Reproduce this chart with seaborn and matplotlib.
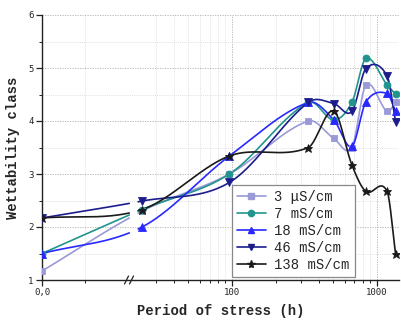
import numpy as np
import pandas as pd
import matplotlib
matplotlib.use("Agg")
import matplotlib.pyplot as plt
import seaborn as sns
from matplotlib.ticker import FixedLocator, FixedFormatter, NullFormatter
from matplotlib.lines import Line2D

# ---------------- data ----------------
hours = [0, 24, 96, 336, 504, 672, 840, 1176, 1344]
s_3us = [1.17, 2.30, 3.00, 4.00, 3.67, 3.50, 4.68, 4.18, 4.35]
s_7ms = [1.50, 2.33, 3.00, 4.35, 4.02, 4.35, 5.18, 4.68, 4.51]
s_18ms = [1.50, 2.00, 3.34, 4.35, 4.02, 3.52, 4.36, 4.52, 4.18]
s_46ms = [2.17, 2.49, 2.84, 4.35, 4.33, 4.18, 4.99, 4.85, 3.99]
s_138ms = [2.17, 2.33, 3.34, 3.50, 4.19, 3.17, 2.67, 2.67, 1.50]
series_labels = ["3 \u03bcS/cm", "7 mS/cm", "18 mS/cm", "46 mS/cm", "138 mS/cm"]
x_major = [0, 100, 1000]
x_major_labels = ["0,0", "100", "1000"]
x_minor = [0.5, 30, 40, 50, 60, 70, 80, 90, 200, 300, 400, 500, 600, 700, 800, 900]
y_ticks = [1, 2, 3, 4, 5, 6]

colors = ["#9a9ad8", "#21948c", "#2828ff", "#1c1c8c", "#1a1a1a"]
markers = ["s", "o", "^", "v", "*"]
msizes = [4.6, 5.0, 5.4, 5.4, 6.4]

# ---------------- broken axis scale ----------------
U_LEFT = 86.0
X_LOG0 = 20.0
U_LOG0 = 190 + 145 * (np.log10(X_LOG0) - 2)


def fwd(x):
    x = np.asarray(x, dtype=float)
    with np.errstate(all="ignore"):
        lin = U_LEFT * x
        mid = U_LEFT + (x - 1) / (X_LOG0 - 1) * (U_LOG0 - U_LEFT)
        lg = 190 + 145 * (np.log10(np.where(x > 0, x, 1.0)) - 2)
    return np.where(x <= 1, lin, np.where(x < X_LOG0, mid, lg))


def inv(u):
    u = np.asarray(u, dtype=float)
    with np.errstate(all="ignore"):
        lin = u / U_LEFT
        mid = 1 + (u - U_LEFT) / (U_LOG0 - U_LEFT) * (X_LOG0 - 1)
        lg = 10 ** ((u - 190) / 145 + 2)
    return np.where(u <= U_LEFT, lin, np.where(u < U_LOG0, mid, lg))


def hermite_curve(xk, yk, xs):
    """Catmull-Rom style cubic Hermite through the points (display smoothing)."""
    xk = np.asarray(xk, float)
    yk = np.asarray(yk, float)
    n = len(xk)
    m = np.zeros(n)
    m[0] = (yk[1] - yk[0]) / (xk[1] - xk[0])
    m[-1] = (yk[-1] - yk[-2]) / (xk[-1] - xk[-2])
    m[1:-1] = (yk[2:] - yk[:-2]) / (xk[2:] - xk[:-2])
    idx = np.clip(np.searchsorted(xk, xs) - 1, 0, n - 2)
    h = xk[idx + 1] - xk[idx]
    t = (xs - xk[idx]) / h
    h00 = 2 * t ** 3 - 3 * t ** 2 + 1
    h10 = t ** 3 - 2 * t ** 2 + t
    h01 = -2 * t ** 3 + 3 * t ** 2
    h11 = t ** 3 - t ** 2
    return h00 * yk[idx] + h10 * h * m[idx] + h01 * yk[idx + 1] + h11 * h * m[idx + 1]


# ---------------- figure ----------------
sns.set_theme(style="ticks")
plt.rcParams["font.family"] = ["DejaVu Sans Mono", "DejaVu Sans"]

W, H = 402, 322
fig = plt.figure(figsize=(W / 100, H / 100), dpi=100)
ax_l, ax_r, ax_t, ax_b = 42, 399, 15, 280
ax = fig.add_axes([ax_l / W, 1 - ax_b / H, (ax_r - ax_l) / W, (ax_b - ax_t) / H])
ax.set_xscale("function", functions=(fwd, inv))
ax.set_xlim(0, 1420)
ax.set_ylim(1, 6)

all_series = [s_3us, s_7ms, s_18ms, s_46ms, s_138ms]
uk = fwd(hours)
for vals, col, mk, ms in zip(all_series, colors, markers, msizes):
    us = np.linspace(uk[0], uk[-1], 1200)
    ys = hermite_curve(uk, vals, us)
    seg = np.where(us <= 87.5, 0, 1)
    keep = (us <= 87.5) | (us >= 96)
    df = pd.DataFrame({"x": inv(us)[keep], "y": ys[keep], "seg": seg[keep]})
    sns.lineplot(data=df, x="x", y="y", units="seg", estimator=None, sort=False,
                 color=col, linewidth=1.2, ax=ax, legend=False)
    ax.plot(hours, vals, linestyle="none", marker=mk, color=col, ms=ms,
            markeredgewidth=0.6, zorder=3)

# ticks & grid
ax.xaxis.set_major_locator(FixedLocator(x_major))
ax.xaxis.set_major_formatter(FixedFormatter(x_major_labels))
ax.xaxis.set_minor_locator(FixedLocator(x_minor))
ax.xaxis.set_minor_formatter(NullFormatter())
ax.yaxis.set_major_locator(FixedLocator(y_ticks))
ax.yaxis.set_minor_locator(FixedLocator([1.5, 2.5, 3.5, 4.5, 5.5]))
ax.tick_params(axis="both", which="major", direction="out", length=4, width=0.9,
               labelsize=6.5, pad=2, colors="#222222")
ax.tick_params(axis="both", which="minor", direction="out", length=2.2, width=0.7,
               colors="#222222")
ax.grid(which="major", color="#b0b0b0", linestyle=(0, (1.5, 1.5)), linewidth=0.6)
ax.grid(which="minor", color="#d8d8d8", linestyle=(0, (1.5, 1.5)), linewidth=0.5)
ax.set_axisbelow(True)

sns.despine(ax=ax)
for s in ["left", "bottom"]:
    ax.spines[s].set_color("#222222")
    ax.spines[s].set_linewidth(1.0)

ax.set_xlabel("Period of stress (h)", fontsize=10, fontweight="bold",
              family=["Liberation Mono", "DejaVu Sans Mono"], labelpad=5)
ax.set_ylabel("Wettability class", fontsize=10, fontweight="bold",
              family=["Liberation Mono", "DejaVu Sans Mono"], labelpad=6)

# break marks on x axis
wpx = ax_r - ax_l
hpx = ax_b - ax_t
for px in (126.5, 131.5):
    fx = (px - ax_l) / wpx
    ax.plot([fx - 2 / wpx, fx + 2 / wpx], [-4 / hpx, 4 / hpx], transform=ax.transAxes,
            color="#222222", linewidth=0.9, clip_on=False, zorder=5)

# legend
handles = [Line2D([0], [0], color=c, marker=m, ms=ms * 0.9, linewidth=1.2)
           for c, m, ms in zip(colors, markers, msizes)]
leg = ax.legend(handles, series_labels, loc="lower left",
                bbox_to_anchor=((232 - ax_l) / wpx, (ax_b - 277) / hpx),
                borderaxespad=0, frameon=True, fancybox=False, framealpha=1,
                edgecolor="#888888", handlelength=2.1, handletextpad=0.6,
                labelspacing=0.22, borderpad=0.35,
                prop={"family": ["Liberation Mono", "DejaVu Sans Mono"], "size": 10})
leg.get_frame().set_linewidth(0.9)

fig.savefig("out.png", dpi=100)
